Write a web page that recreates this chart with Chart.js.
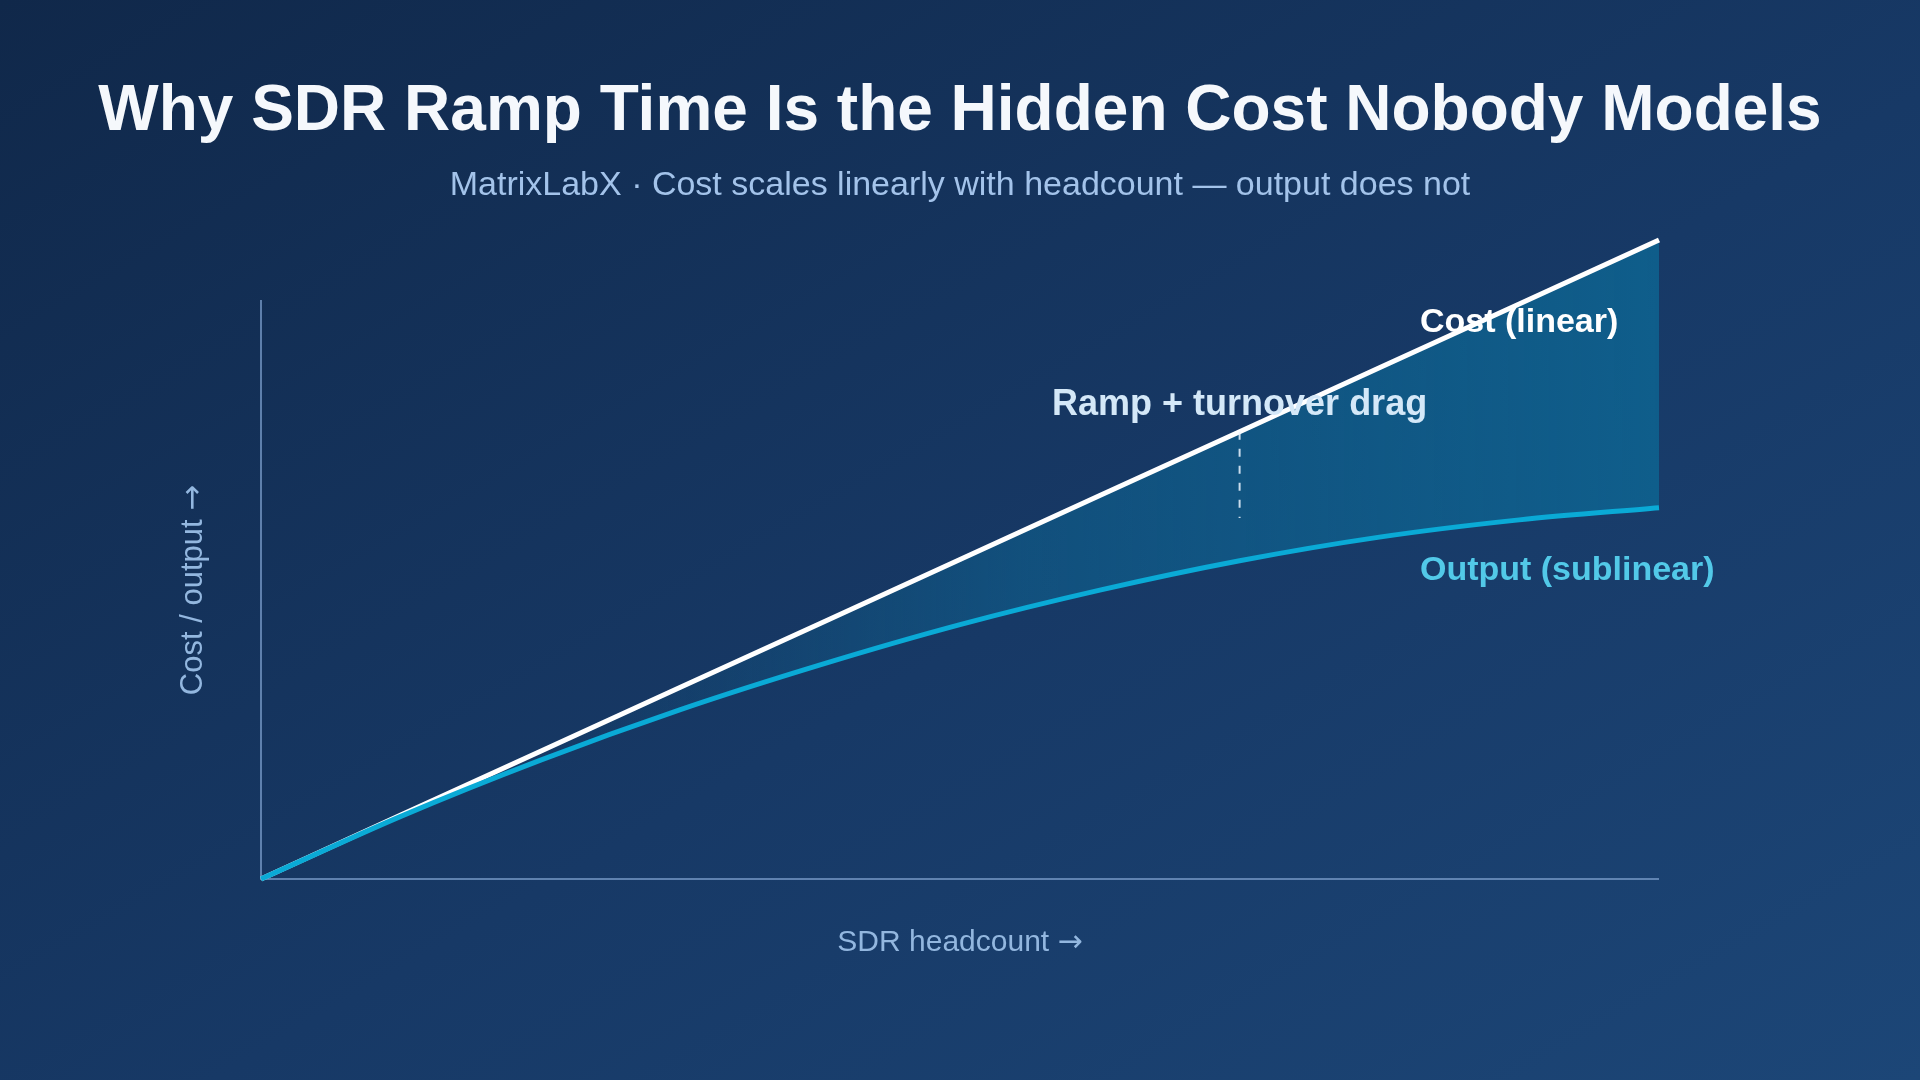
<!DOCTYPE html>
<html>
<head>
<meta charset="utf-8">
<title>SDR ramp time</title>
<script src="https://cdn.jsdelivr.net/npm/chart.js@4/dist/chart.umd.min.js"></script>
<style>
    html, body {
        margin: 0;
        padding: 0;
        width: 1920px;
        height: 1080px;
        overflow: hidden;
        background: linear-gradient(150deg, #10284a 0%, #173966 55%, #1c4677 100%);
    }
    #chart {
        display: block;
    }
</style>
</head>
<body>
<canvas id="chart" width="1920" height="1080"></canvas>
<script>
/*
Cost vs output as SDR headcount grows
*/

// data (x = headcount, relative 0-100; y = relative cost / output)
const headcount = [0, 10, 20, 30, 40, 50, 60, 70, 80, 90, 100];
const costValues = [0, 10, 20, 30, 40, 50, 60, 70, 80, 90, 100];
const outputValues = [0, 9.8, 18.6, 26.5, 33.5, 39.8, 45.2, 49.8, 53.5, 56.2, 58.1];

// gap marker (x, top, bottom)
const dragX = 70;
const dragRange = [70, 56.5];

// text
const titleText = "Why SDR Ramp Time Is the Hidden Cost Nobody Models";
const subtitleText = "MatrixLabX \u00b7 Cost scales linearly with headcount \u2014 output does not";
const xAxisText = "SDR headcount";
const yAxisText = "Cost / output";
const arrow = "\u2192";
const costLabel = "Cost (linear)";
const outputLabel = "Output (sublinear)";
const dragLabel = "Ramp + turnover drag";

const font = '"Liberation Sans", Arial, Helvetica, sans-serif';
const arrowFont = '"DejaVu Sans", sans-serif';

function toPoints(xs, ys) {
    return xs.map((x, i) => ({ x: x, y: ys[i] }));
}

// text + arrow centred on (cx, baseline)
function arrowText(ctx, text, cx, base, size) {
    ctx.font = `${size}px ${font}`;
    const w1 = ctx.measureText(text + " ").width;
    ctx.font = `${size}px ${arrowFont}`;
    const w2 = ctx.measureText(arrow).width;
    let left = cx - (w1 + w2) / 2;
    ctx.textAlign = 'left';
    ctx.font = `${size}px ${font}`;
    ctx.fillText(text + " ", left, base);
    ctx.font = `${size}px ${arrowFont}`;
    ctx.fillText(arrow, left + w1, base);
}

// axis lines + all the text
const decorations = {
    id: 'decorations',
    beforeDatasetsDraw(chart) {
        const ctx = chart.ctx;
        const x = chart.scales.x;
        const y = chart.scales.y;

        ctx.save();
        ctx.strokeStyle = 'rgba(120, 155, 200, 0.75)';
        ctx.lineWidth = 2;
        ctx.beginPath();
        ctx.moveTo(x.getPixelForValue(0), y.getPixelForValue(90.6));
        ctx.lineTo(x.getPixelForValue(0), y.getPixelForValue(0));
        ctx.lineTo(x.getPixelForValue(100), y.getPixelForValue(0));
        ctx.stroke();
        ctx.restore();
    },
    afterDraw(chart) {
        const ctx = chart.ctx;
        const x = chart.scales.x;

        ctx.save();
        ctx.textBaseline = 'alphabetic';

        ctx.textAlign = 'center';
        ctx.fillStyle = '#f5f8fc';
        ctx.font = `bold 64px ${font}`;
        ctx.fillText(titleText, 960, 130);

        ctx.fillStyle = '#a3c3ea';
        ctx.font = `34px ${font}`;
        ctx.fillText(subtitleText, 960, 195);

        ctx.fillStyle = '#93b7df';
        arrowText(ctx, xAxisText, 960, 951, 30);

        ctx.save();
        ctx.translate(202, 590);
        ctx.rotate(-Math.PI / 2);
        arrowText(ctx, yAxisText, 0, 0, 31);
        ctx.restore();

        // series labels, anchored on the data scales
        ctx.textAlign = 'left';
        ctx.fillStyle = '#ffffff';
        ctx.font = `bold 34px ${font}`;
        ctx.fillText(costLabel, x.getPixelForValue(82.9), 332);

        ctx.fillStyle = '#52c9e8';
        ctx.font = `bold 34px ${font}`;
        ctx.fillText(outputLabel, x.getPixelForValue(82.9), 580);

        ctx.textAlign = 'center';
        ctx.fillStyle = '#d4e8f8';
        ctx.font = `bold 36px ${font}`;
        ctx.fillText(dragLabel, x.getPixelForValue(dragX), 415);

        ctx.restore();
    }
};

function gapFill(context) {
    const area = context.chart.chartArea;
    if (!area) {
        return 'rgba(14, 100, 145, 0.6)';
    }
    const g = context.chart.ctx.createLinearGradient(area.left, 0, area.right, 0);
    g.addColorStop(0, 'rgba(14, 100, 145, 0)');
    g.addColorStop(0.25, 'rgba(14, 100, 145, 0.1)');
    g.addColorStop(0.55, 'rgba(14, 100, 145, 0.55)');
    g.addColorStop(1, 'rgba(14, 100, 145, 0.85)');
    return g;
}

function displayChart() {
    const ctx = document.getElementById("chart");

    new Chart(ctx, {
        type: 'line',
        data: {
            datasets: [{
                label: costLabel,
                data: toPoints(headcount, costValues),
                borderColor: '#ffffff',
                borderWidth: 5,
                backgroundColor: gapFill,
                fill: { target: 1 },
                pointRadius: 0,
                tension: 0,
                order: 2
            }, {
                label: outputLabel,
                data: toPoints(headcount, outputValues),
                borderColor: '#0aaad6',
                borderWidth: 5,
                fill: false,
                pointRadius: 0,
                cubicInterpolationMode: 'monotone',
                order: 1
            }, {
                label: dragLabel,
                data: toPoints([dragX, dragX], dragRange),
                borderColor: 'rgba(235, 245, 255, 0.85)',
                borderWidth: 2,
                borderDash: [8, 9],
                fill: false,
                pointRadius: 0,
                order: 0
            }]
        },
        options: {
            responsive: false,
            devicePixelRatio: 1,
            animation: false,
            layout: {
                padding: { left: 261, right: 261, top: 240, bottom: 201 }
            },
            scales: {
                x: { type: 'linear', min: 0, max: 100, display: false },
                y: { type: 'linear', min: 0, max: 100, display: false }
            },
            plugins: {
                legend: { display: false },
                tooltip: { enabled: false },
                title: { display: false }
            },
            clip: false
        },
        plugins: [decorations]
    });
}

displayChart();
</script>
</body>
</html>
